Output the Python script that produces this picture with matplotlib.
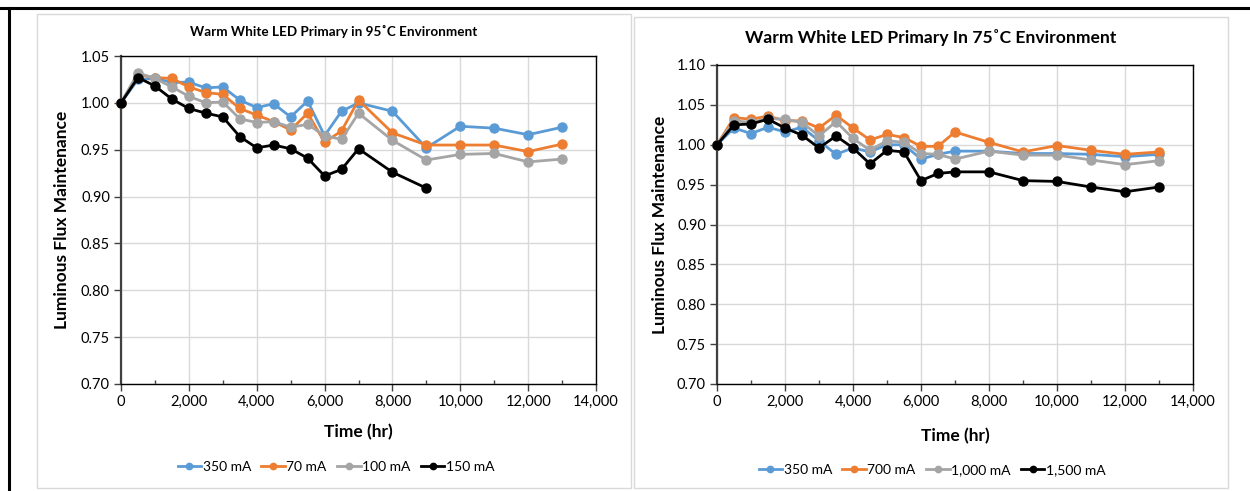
import matplotlib
matplotlib.use("Agg")
import matplotlib.pyplot as plt
from matplotlib.patches import Rectangle
from matplotlib.lines import Line2D
from matplotlib.ticker import MultipleLocator, FuncFormatter

plt.rcParams['font.family'] = ['Lato', 'DejaVu Sans']

# ---- data: 95 C environment ----
hours_95 = [0, 500, 1000, 1500, 2000, 2500, 3000, 3500, 4000, 4500, 5000, 5500,
            6000, 6500, 7000, 8000, 9000, 10000, 11000, 12000, 13000]
flux_95_350 = [1.000, 1.025, 1.026, 1.022, 1.022, 1.016, 1.017, 1.003, 0.995, 0.999, 0.985,
               1.002, 0.965, 0.991, 1.000, 0.991, 0.952, 0.975, 0.973, 0.966, 0.974]
flux_95_70 = [1.000, 1.030, 1.027, 1.026, 1.017, 1.011, 1.009, 0.994, 0.987, 0.980, 0.971,
              0.989, 0.958, 0.970, 1.003, 0.968, 0.955, 0.955, 0.955, 0.948, 0.956]
flux_95_100 = [1.000, 1.032, 1.026, 1.017, 1.007, 1.000, 1.001, 0.983, 0.979, 0.980, 0.974,
               0.977, 0.965, 0.961, 0.989, 0.960, 0.939, 0.945, 0.946, 0.937, 0.940]
hours_95_150 = [0, 500, 1000, 1500, 2000, 2500, 3000, 3500, 4000, 4500, 5000, 5500,
                6000, 6500, 7000, 8000, 9000]
flux_95_150 = [1.000, 1.027, 1.018, 1.004, 0.994, 0.989, 0.985, 0.964, 0.952, 0.955, 0.951,
               0.941, 0.922, 0.929, 0.951, 0.926, 0.909]
labels_95 = ["350 mA", "70 mA", "100 mA", "150 mA"]

# ---- data: 75 C environment ----
hours_75 = [0, 500, 1000, 1500, 2000, 2500, 3000, 3500, 4000, 4500, 5000, 5500,
            6000, 6500, 7000, 8000, 9000, 10000, 11000, 12000, 13000]
flux_75_350 = [1.000, 1.021, 1.014, 1.022, 1.016, 1.022, 1.005, 0.988, 0.996, 0.991, 1.000,
               1.000, 0.982, 0.988, 0.992, 0.992, 0.989, 0.989, 0.988, 0.985, 0.988]
flux_75_700 = [1.000, 1.034, 1.032, 1.036, 1.030, 1.030, 1.021, 1.037, 1.021, 1.006, 1.013,
               1.009, 0.998, 0.998, 1.016, 1.003, 0.991, 0.999, 0.993, 0.988, 0.991]
flux_75_1000 = [1.000, 1.030, 1.028, 1.033, 1.032, 1.028, 1.011, 1.029, 1.008, 0.993, 1.005,
                1.003, 0.989, 0.988, 0.982, 0.992, 0.987, 0.987, 0.981, 0.975, 0.980]
flux_75_1500 = [1.000, 1.025, 1.026, 1.032, 1.021, 1.012, 0.996, 1.011, 0.996, 0.976, 0.993,
                0.991, 0.955, 0.964, 0.966, 0.966, 0.955, 0.954, 0.947, 0.941, 0.947]
labels_75 = ["350 mA", "700 mA", "1,000 mA", "1,500 mA"]

colors = ["#5B9BD5", "#ED7D31", "#A5A5A5", "#000000"]

W, H = 1250, 491
fig = plt.figure(figsize=(W / 100, H / 100), dpi=100)
fig.patch.set_facecolor("white")


def fx(px):
    return px / W


def fy(py):
    return 1 - py / H


# outer document frame
fig.add_artist(Line2D([0, 1], [fy(7.5), fy(7.5)], transform=fig.transFigure,
                      color="black", lw=2.2))
fig.add_artist(Line2D([fx(9), fx(9)], [fy(7.5), 0], transform=fig.transFigure,
                      color="black", lw=2.2))

# chart panels
for x0, y0, x1, y1 in [(37, 14, 631, 488), (634, 17, 1228, 488)]:
    fig.add_artist(Rectangle((fx(x0), fy(y1)), fx(x1 - x0), (y1 - y0) / H,
                             transform=fig.transFigure, facecolor="white",
                             edgecolor="#D9D9D9", lw=1.0, zorder=0))


def style_axes(ax, ymin, ymax):
    ax.set_xlim(0, 14000)
    ax.set_ylim(ymin, ymax)
    ax.xaxis.set_major_locator(MultipleLocator(2000))
    ax.xaxis.set_minor_locator(MultipleLocator(1000))
    ax.yaxis.set_major_locator(MultipleLocator(0.05))
    ax.xaxis.set_major_formatter(FuncFormatter(lambda v, p: f"{int(v):,}"))
    ax.yaxis.set_major_formatter(FuncFormatter(lambda v, p: f"{v:.2f}"))
    ax.grid(True, which="major", color="#D9D9D9", lw=1.0)
    ax.set_axisbelow(True)
    for s in ax.spines.values():
        s.set_color("black")
        s.set_linewidth(1.0)
    ax.spines["left"].set_color("#404040")
    ax.spines["left"].set_linewidth(1.6)
    ax.tick_params(axis="both", which="major", direction="out", length=5,
                   width=1.0, color="#404040", labelsize=10.5, pad=3)
    ax.tick_params(axis="x", which="minor", direction="in", length=3,
                   width=1.0, color="#404040")


def draw_series(ax, xs_list, ys_list, labels):
    for xs, ys, lab, c in zip(xs_list, ys_list, labels, colors):
        ax.plot(xs, ys, color=c, lw=2.0, marker="o", markersize=6.5,
                markeredgecolor=c, label=lab, clip_on=False, zorder=3)


legend_kw = dict(loc="center", ncol=4, frameon=False, fontsize=10,
                 handlelength=1.7, handletextpad=0.1, columnspacing=0.75,
                 markerscale=0.7)

# ---- left chart ----
ax1 = fig.add_axes([fx(121), fy(384), fx(596 - 121), (384 - 56) / H])
style_axes(ax1, 0.70, 1.05)
draw_series(ax1, [hours_95, hours_95, hours_95, hours_95_150],
            [flux_95_350, flux_95_70, flux_95_100, flux_95_150], labels_95)
ax1.set_ylabel("Luminous Flux Maintenance", fontsize=12.5, fontweight="bold")
ax1.yaxis.set_label_coords((70 - 121) / 475, 0.5)
ax1.set_xlabel("Time (hr)", fontsize=12.5, fontweight="bold")
ax1.xaxis.set_label_coords(0.5, -(424 - 384) / 328)
fig.text(fx(334), fy(31), "Warm White LED Primary in 95˚C Environment",
         ha="center", va="center", fontsize=9.7, fontweight="bold")
ax1.legend(bbox_to_anchor=(fx(336), fy(467)), bbox_transform=fig.transFigure,
           **legend_kw)

# ---- right chart ----
ax2 = fig.add_axes([fx(717), fy(384), fx(1193 - 717), (384 - 65) / H])
style_axes(ax2, 0.70, 1.10)
draw_series(ax2, [hours_75] * 4,
            [flux_75_350, flux_75_700, flux_75_1000, flux_75_1500], labels_75)
ax2.set_ylabel("Luminous Flux Maintenance", fontsize=12.5, fontweight="bold")
ax2.yaxis.set_label_coords((668 - 717) / 476, 0.5)
ax2.set_xlabel("Time (hr)", fontsize=12.5, fontweight="bold")
ax2.xaxis.set_label_coords(0.5, -(428 - 384) / 319)
fig.text(fx(931), fy(37), "Warm White LED Primary In 75˚C Environment",
         ha="center", va="center", fontsize=12.6, fontweight="bold")
ax2.legend(bbox_to_anchor=(fx(932), fy(470)), bbox_transform=fig.transFigure,
           **legend_kw)

fig.savefig("out.png", dpi=100, facecolor="white")
